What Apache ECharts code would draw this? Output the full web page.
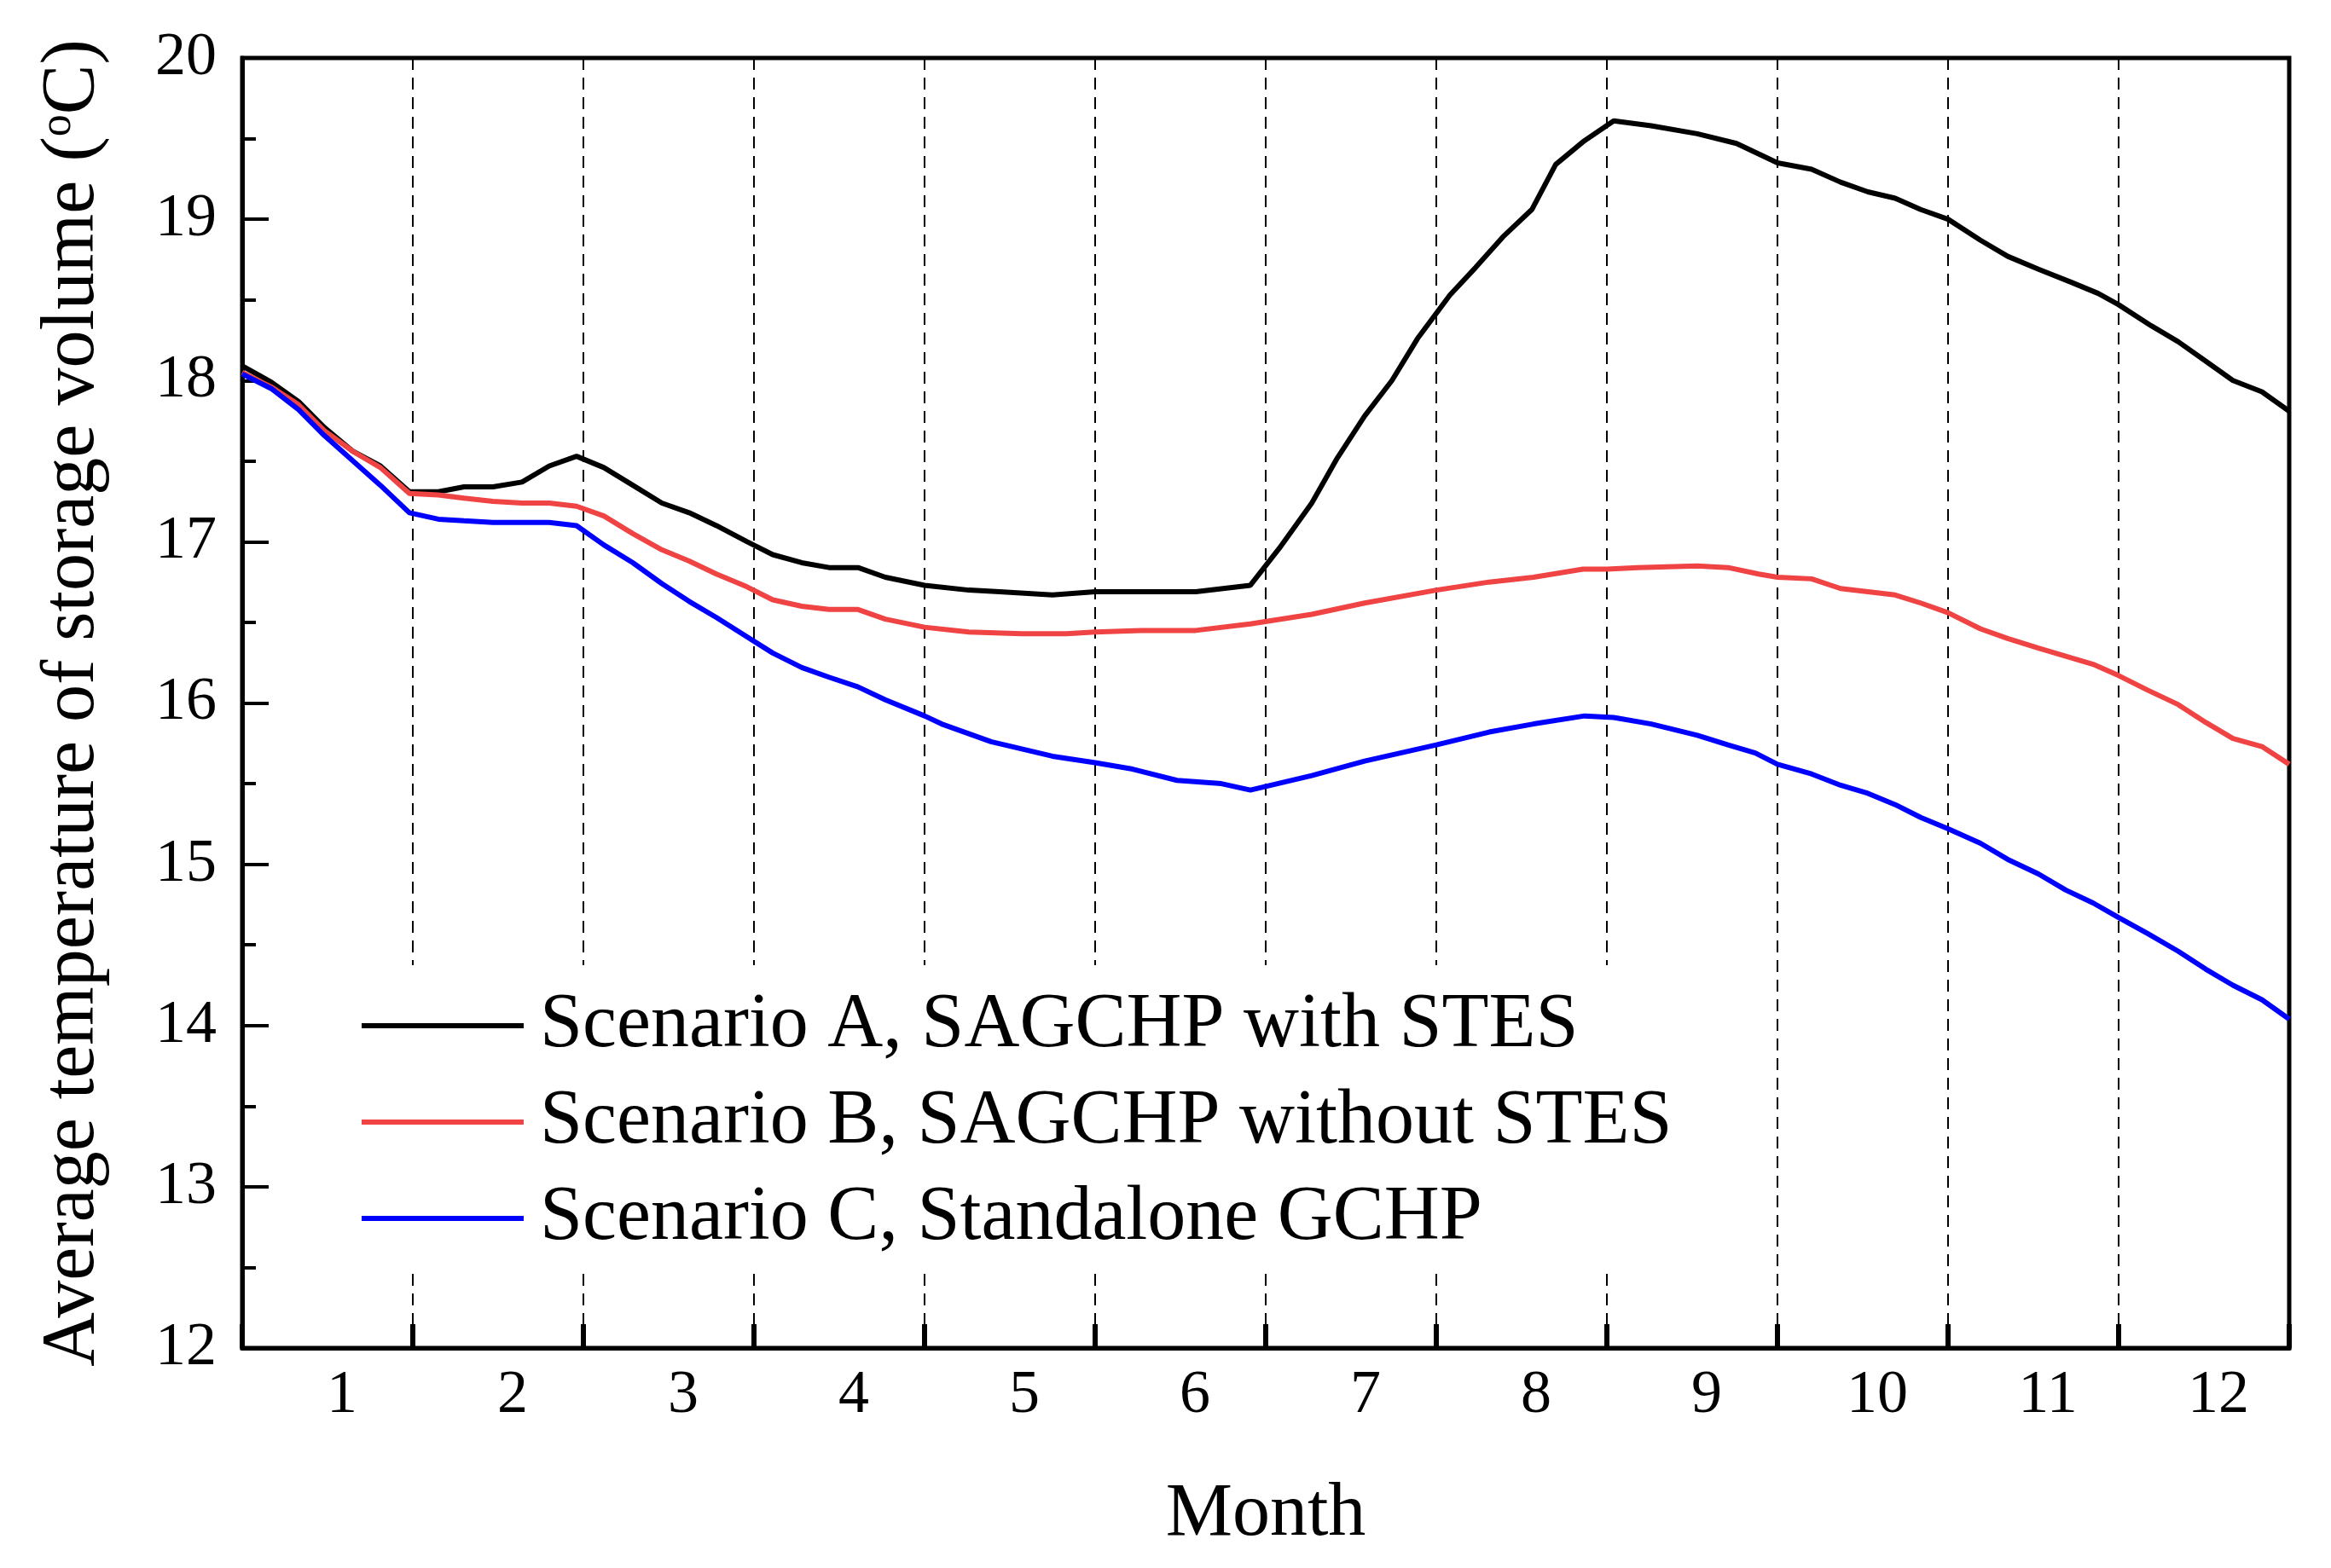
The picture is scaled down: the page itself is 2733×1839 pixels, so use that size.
<!DOCTYPE html>
<html>
<head>
<meta charset="utf-8">
<script src="https://cdn.jsdelivr.net/npm/echarts@6/dist/echarts.min.js"></script>
<style>
    html, body { margin: 0; padding: 0; background: #fff; }
    #container-chart-line { width: 2733px; height: 1839px; }
</style>
</head>
<body>
<div id="container-chart-line"></div>
<script>
// month labels shown under each band
var monthLabels = ['1', '2', '3', '4', '5', '6', '7', '8', '9', '10', '11', '12'];

// Scenario A, SAGCHP with STES
var monthsA = [0, 0.17, 0.33, 0.48, 0.65, 0.81, 0.98, 1.15, 1.30, 1.47, 1.64, 1.80, 1.96, 2.12, 2.29, 2.46, 2.62, 2.78, 2.96, 3.11, 3.28, 3.44, 3.61, 3.77, 4.0,
    4.26, 4.44, 4.75, 5.0, 5.27, 5.59, 5.91, 6.08, 6.27, 6.42, 6.58, 6.74, 6.89, 7.08, 7.23, 7.39, 7.56, 7.70, 7.86, 8.04,
    8.26, 8.53, 8.76, 9.0, 9.20, 9.37, 9.53, 9.69, 9.84, 10.0, 10.19, 10.35, 10.53, 10.72, 10.88, 11.0, 11.19, 11.35, 11.51, 11.67, 11.84, 12.0];
var tempA = [18.09, 17.99, 17.87, 17.71, 17.56, 17.47, 17.31, 17.31, 17.34, 17.34, 17.37, 17.47, 17.53, 17.46, 17.35, 17.24, 17.18, 17.10, 17.00, 16.92, 16.87, 16.84, 16.84, 16.78, 16.73,
    16.70, 16.69, 16.67, 16.69, 16.69, 16.69, 16.73, 16.96, 17.24, 17.52, 17.78, 18.00, 18.26, 18.53, 18.70, 18.89, 19.06, 19.34, 19.48, 19.61,
    19.58, 19.53, 19.47, 19.35, 19.31, 19.23, 19.17, 19.13, 19.06, 19.00, 18.87, 18.77, 18.69, 18.61, 18.54, 18.47, 18.34, 18.24, 18.12, 18.00, 17.93, 17.81];

// Scenario B, SAGCHP without STES
var monthsB = [0, 0.17, 0.33, 0.48, 0.65, 0.81, 0.98, 1.15, 1.30, 1.47, 1.64, 1.80, 1.96, 2.12, 2.29, 2.46, 2.62, 2.78, 2.96, 3.11, 3.28, 3.44, 3.61, 3.77, 4.0,
    4.26, 4.57, 4.83, 5.0, 5.27, 5.59, 5.91, 6.27, 6.58, 7.0, 7.31, 7.57, 7.86, 8.0, 8.18, 8.53, 8.71, 8.89,
    9.0, 9.20, 9.37, 9.53, 9.69, 9.84, 10.0, 10.19, 10.35, 10.53, 10.69, 10.85, 11.0, 11.17, 11.35, 11.51, 11.67, 11.84, 12.0];
var tempB = [18.05, 17.96, 17.85, 17.69, 17.56, 17.46, 17.30, 17.29, 17.27, 17.25, 17.24, 17.24, 17.22, 17.16, 17.05, 16.95, 16.88, 16.80, 16.72, 16.64, 16.60, 16.58, 16.58, 16.52, 16.47,
    16.44, 16.43, 16.43, 16.44, 16.45, 16.45, 16.49, 16.55, 16.62, 16.70, 16.75, 16.78, 16.83, 16.83, 16.84, 16.85, 16.84, 16.80,
    16.78, 16.77, 16.71, 16.69, 16.67, 16.62, 16.56, 16.46, 16.40, 16.34, 16.29, 16.24, 16.17, 16.08, 15.99, 15.88, 15.78, 15.73, 15.62];

// Scenario C, Standalone GCHP
var monthsC = [0, 0.17, 0.33, 0.48, 0.65, 0.81, 0.98, 1.15, 1.30, 1.47, 1.64, 1.80, 1.96, 2.12, 2.29, 2.46, 2.62, 2.78, 2.96, 3.11, 3.28, 3.44, 3.61, 3.77, 4.0,
    4.10, 4.39, 4.75, 5.0, 5.22, 5.48, 5.74, 5.91, 6.27, 6.58, 7.0, 7.31, 7.57, 7.87, 8.04, 8.26, 8.53, 8.71, 8.87,
    9.0, 9.20, 9.37, 9.53, 9.69, 9.84, 10.0, 10.19, 10.35, 10.53, 10.69, 10.85, 11.0, 11.17, 11.35, 11.51, 11.67, 11.84, 12.0];
var tempC = [18.04, 17.95, 17.82, 17.66, 17.50, 17.35, 17.18, 17.14, 17.13, 17.12, 17.12, 17.12, 17.10, 16.98, 16.87, 16.74, 16.63, 16.53, 16.41, 16.31, 16.22, 16.16, 16.10, 16.02, 15.92,
    15.87, 15.76, 15.67, 15.63, 15.59, 15.52, 15.50, 15.46, 15.55, 15.64, 15.74, 15.82, 15.87, 15.92, 15.91, 15.87, 15.80, 15.74, 15.69,
    15.62, 15.56, 15.49, 15.44, 15.37, 15.29, 15.22, 15.13, 15.03, 14.94, 14.84, 14.76, 14.67, 14.57, 14.46, 14.35, 14.25, 14.16, 14.04];

var seriesNames = ['Scenario A, SAGCHP with STES', 'Scenario B, SAGCHP without STES', 'Scenario C, Standalone GCHP'];
var seriesColors = ['#000000', '#f04343', '#0000ff'];

var fontFamily = '"Liberation Serif", "Times New Roman", serif';
var myChart;

function pairs(xs, ys) {
    var out = [];
    for (var i = 0; i < xs.length; i++) {
        out.push([xs[i], ys[i]]);
    }
    return out;
}

function lineSeries(idx, xs, ys) {
    return {
        name: seriesNames[idx],
        type: 'line',
        xAxisIndex: 0,
        yAxisIndex: 0,
        symbol: 'none',
        smooth: false,
        lineStyle: { color: seriesColors[idx], width: 6 },
        itemStyle: { color: seriesColors[idx] },
        data: pairs(xs, ys),
        z: 3
    };
}

function myChartInit() {
    myChart = echarts.init(document.getElementById('container-chart-line'));

    var option = {
        animation: false,
        backgroundColor: '#fff',
        grid: {
            left: 284,
            right: 49,
            top: 68,
            bottom: 258,
            show: true,
            borderColor: '#000',
            borderWidth: 5,
            backgroundColor: 'transparent'
        },
        legend: {
            orient: 'vertical',
            left: 414,
            top: 1132,
            padding: [21, 40, 9, 10],
            backgroundColor: '#fff',
            icon: 'rect',
            itemWidth: 190,
            itemHeight: 6,
            itemGap: 13,
            textStyle: { fontFamily: fontFamily, fontSize: 90, lineHeight: 100, color: '#000', padding: [0, 0, 0, 14] },
            data: seriesNames
        },
        xAxis: [
            {
                // month boundaries: ticks + dashed lines
                type: 'value',
                min: 0,
                max: 12,
                interval: 1,
                name: 'Month',
                nameLocation: 'middle',
                nameGap: 152,
                nameTextStyle: { fontFamily: fontFamily, fontSize: 88, color: '#000' },
                axisLine: { show: true, lineStyle: { color: '#000', width: 5 } },
                axisTick: { show: true, inside: true, length: 28, lineStyle: { color: '#000', width: 6 } },
                axisLabel: { show: false },
                splitLine: { show: true, lineStyle: { color: '#000', width: 2, type: [14, 9] } }
            },
            {
                // month labels, sitting a little right of each band centre
                type: 'category',
                position: 'bottom',
                data: monthLabels,
                boundaryGap: true,
                axisLine: { show: false },
                axisTick: { show: false },
                splitLine: { show: false },
                axisLabel: { fontFamily: fontFamily, fontSize: 72, color: '#000', margin: 20, padding: [0, 0, 0, 34] }
            }
        ],
        yAxis: {
            type: 'value',
            min: 12,
            max: 20,
            interval: 1,
            name: 'Average temperature of storage volume ({sup|o}C)',
            nameLocation: 'middle',
            nameGap: 154,
            nameTextStyle: {
                fontFamily: fontFamily,
                fontSize: 88,
                color: '#000',
                rich: {
                    sup: { fontFamily: fontFamily, fontSize: 52, color: '#000', verticalAlign: 'top', padding: [0, 0, 26, 0] }
                }
            },
            axisLine: { show: true, lineStyle: { color: '#000', width: 5 } },
            axisTick: { show: true, inside: true, length: 31, lineStyle: { color: '#000', width: 4 } },
            minorTick: { show: true, splitNumber: 2, length: 16, lineStyle: { color: '#000', width: 4 } },
            axisLabel: { fontFamily: fontFamily, fontSize: 72, color: '#000', margin: 30 },
            splitLine: { show: false }
        },
        series: [
            lineSeries(0, monthsA, tempA),
            lineSeries(1, monthsB, tempB),
            lineSeries(2, monthsC, tempC)
        ]
    };

    myChart.setOption(option);
}

myChartInit();
</script>
</body>
</html>
